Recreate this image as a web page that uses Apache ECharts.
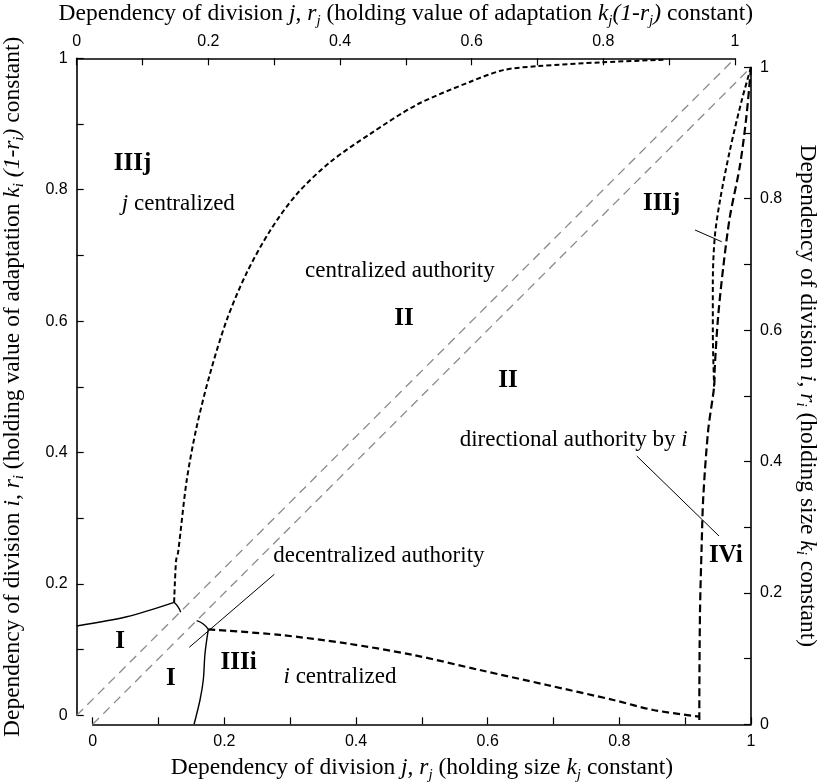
<!DOCTYPE html>
<html>
<head>
<meta charset="utf-8">
<script src="https://cdn.jsdelivr.net/npm/echarts@6/dist/echarts.min.js"></script>
<style>
  html, body { margin: 0; padding: 0; background: #fff; }
  #chart { width: 827px; height: 784px; }
</style>
</head>
<body>
<div id="chart"></div>
<script>
// frame A = top/left axes (value of adaptation constant)
// frame B = bottom/right axes (size constant)
const diagonal = [[0, 0], [1, 1]]

// frame A curves
const boundaryI = [[0, 0.136], [0.076, 0.150], [0.148, 0.172]]
const hookA = [[0.148, 0.172], [0.154, 0.165], [0.158, 0.157]]
const upperCurve = [[0.148, 0.172], [0.151, 0.236], [0.154, 0.248], [0.167, 0.357], [0.182, 0.438],
  [0.2025, 0.520], [0.228, 0.602], [0.258, 0.673], [0.294, 0.738], [0.334, 0.793], [0.385, 0.842],
  [0.446, 0.885], [0.516, 0.929], [0.597, 0.964], [0.648, 0.982], [0.699, 0.988], [0.800, 0.994],
  [0.896, 0.998]]

// frame B curves
const boundaryIIIi = [[0.1756, 0.1446], [0.1706, 0.108], [0.168, 0.0675], [0.163, 0.037], [0.154, 0]]
const hookB = [[0.158, 0.1577], [0.168, 0.1527], [0.1756, 0.1446]]
const lowerCurve = [[0.1756, 0.1446], [0.2845, 0.136], [0.386, 0.123], [0.487, 0.1055], [0.588, 0.0826],
  [0.690, 0.0598], [0.791, 0.037], [0.8516, 0.0218], [0.9215, 0.0116]]
const rightInner = [[1, 1], [0.986, 0.950], [0.968, 0.874], [0.953, 0.798], [0.945, 0.742],
  [0.942, 0.672], [0.942, 0.596], [0.944, 0.514]]
const rightOuter = [[1, 1], [0.993, 0.925], [0.983, 0.849], [0.968, 0.773], [0.958, 0.697],
  [0.950, 0.620], [0.945, 0.544], [0.944, 0.514], [0.935, 0.448], [0.9275, 0.346], [0.925, 0.270],
  [0.9225, 0.169], [0.9215, 0.0116], [0.9215, 0]]

// pointer lines (frame B)
const leaderDecentral = [[0.1467, 0.1172], [0.2759, 0.2283]]
const leaderIIIj = [[0.9149, 0.7524], [0.9555, 0.7345]]
const leaderDirectional = [[0.8264, 0.4084], [0.9514, 0.2866]]

// region labels (frame A)
const regionNames = ['IIIj', 'II', 'II', 'IIIj', 'IVi', 'I', 'I', 'IIIi']
const regionPos = [[0.0848, 0.840], [0.497, 0.604], [0.655, 0.510], [0.8886, 0.779],
  [0.986, 0.2435], [0.0659, 0.1116], [0.1432, 0.0558], [0.246, 0.0799]]
const noteTexts = ['{it|j} centralized', 'centralized authority', 'directional authority by {it|i}',
  'decentralized authority', '{it|i} centralized']
const notePos = [[0.1544, 0.779], [0.491, 0.677], [0.755, 0.4186], [0.459, 0.242], [0.40, 0.0583]]

const tickValues = [0, 0.2, 0.4, 0.6, 0.8, 1]

const topName = 'Dependency of division {i|j}, {i|r}{s|j} (holding value of adaptation {i|k}{s|j}{i|(1-r}{s|j}{i|)} constant)'
const leftName = 'Dependency of division {i|i}, {i|r}{s|i} (holding value of adaptation {i|k}{s|i} {i|(1-r}{s|i}{i|)} constant)'
const bottomName = 'Dependency of division {i|j}, {i|r}{s|j} (holding size {i|k}{s|j} constant)'
const rightName = 'Dependency of division {i|i}, {i|r}{s|i} (holding size {i|k}{s|i} constant)'

const serif = 'Liberation Serif'
const titleSize = 23.5
const noteSize = 23

const nameStyle = {
  fontFamily: serif, fontSize: titleSize, color: '#000', lineHeight: 28,
  rich: {
    i: {fontFamily: serif, fontSize: titleSize, fontStyle: 'italic', color: '#000', lineHeight: 28},
    s: {fontFamily: serif, fontSize: 15, fontStyle: 'italic', color: '#000', lineHeight: 15, padding: [13, 0, 0, 0]}
  }
}

const tickLabel = (v) => {
  const t = Math.round(v * 10)
  if (t % 2 !== 0) return ''
  return tickValues.indexOf(t / 10) >= 0 ? String(t / 10) : ''
}

const makeAxis = (gridIndex, position, name, nameGap, nameRotate) => ({
  type: 'value', gridIndex: gridIndex, position: position, min: 0, max: 1, interval: 0.1,
  name: name, nameLocation: 'middle', nameGap: nameGap, nameRotate: nameRotate,
  nameTextStyle: nameStyle,
  axisLine: {show: true, onZero: false, lineStyle: {color: '#000', width: 1.6}},
  axisTick: {show: true, inside: true, length: 7, lineStyle: {color: '#000', width: 1.2}},
  axisLabel: {
    formatter: tickLabel, fontFamily: 'Liberation Sans', fontSize: 16, color: '#000', margin: 9,
    showMinLabel: true, showMaxLabel: true
  },
  splitLine: {show: false}
})

const lineSeries = (data, grid, color, width, type, smooth) => ({
  type: 'line', data: data, xAxisIndex: grid, yAxisIndex: grid, symbol: 'none', smooth: smooth,
  silent: true, lineStyle: {color: color, width: width, type: type}
})

const chart = echarts.init(document.getElementById('chart'))

const option = {
  animation: false,
  backgroundColor: '#fff',
  grid: [
    {left: 76.7, top: 58.3, width: 658.3, height: 657, containLabel: false, outerBoundsMode: 'none'},
    {left: 92.7, top: 67.3, width: 658.3, height: 657, containLabel: false, outerBoundsMode: 'none'}
  ],
  xAxis: [
    makeAxis(0, 'top', topName, 30, 0),
    makeAxis(1, 'bottom', bottomName, 29, 0)
  ],
  yAxis: [
    makeAxis(0, 'left', leftName, 50, 90),
    makeAxis(1, 'right', rightName, 42, -90)
  ],
  series: [
    lineSeries(diagonal, 0, '#8a8a8a', 1.3, [9, 6], false),
    lineSeries(diagonal, 1, '#8a8a8a', 1.3, [9, 6], false),
    lineSeries(boundaryI, 0, '#000', 1.4, 'solid', 0.3),
    lineSeries(hookA, 0, '#000', 1.4, 'solid', 0.5),
    lineSeries(upperCurve, 0, '#000', 2, [5, 3], 0.3),
    lineSeries(boundaryIIIi, 1, '#000', 1.4, 'solid', 0.3),
    lineSeries(hookB, 1, '#000', 1.4, 'solid', 0.5),
    lineSeries(lowerCurve, 1, '#000', 2.2, [7, 4], 0.3),
    lineSeries(rightInner, 1, '#000', 2, [5, 3], 0.3),
    lineSeries(rightOuter, 1, '#000', 2.2, [8, 4], 0.3),
    lineSeries(leaderDecentral, 1, '#000', 1, 'solid', false),
    lineSeries(leaderIIIj, 1, '#000', 1, 'solid', false),
    lineSeries(leaderDirectional, 1, '#000', 1, 'solid', false),
    {
      type: 'scatter', xAxisIndex: 0, yAxisIndex: 0, symbolSize: 1, silent: true, z: 5,
      itemStyle: {color: 'rgba(0,0,0,0)', opacity: 1},
      data: regionPos.map((p, i) => [p[0], p[1], regionNames[i]]),
      label: {
        show: true, position: 'inside', formatter: (p) => p.data[2], opacity: 1,
        fontFamily: serif, fontWeight: 'bold', fontSize: 25, color: '#000'
      }
    },
    {
      type: 'scatter', xAxisIndex: 0, yAxisIndex: 0, symbolSize: 1, silent: true, z: 5,
      itemStyle: {color: 'rgba(0,0,0,0)', opacity: 1},
      data: notePos.map((p, i) => [p[0], p[1], noteTexts[i]]),
      label: {
        show: true, position: 'inside', formatter: (p) => p.data[2], opacity: 1,
        fontFamily: serif, fontSize: noteSize, color: '#000',
        rich: {it: {fontFamily: serif, fontSize: noteSize, fontStyle: 'italic', color: '#000'}}
      }
    }
  ]
}

chart.setOption(option)
</script>
</body>
</html>
